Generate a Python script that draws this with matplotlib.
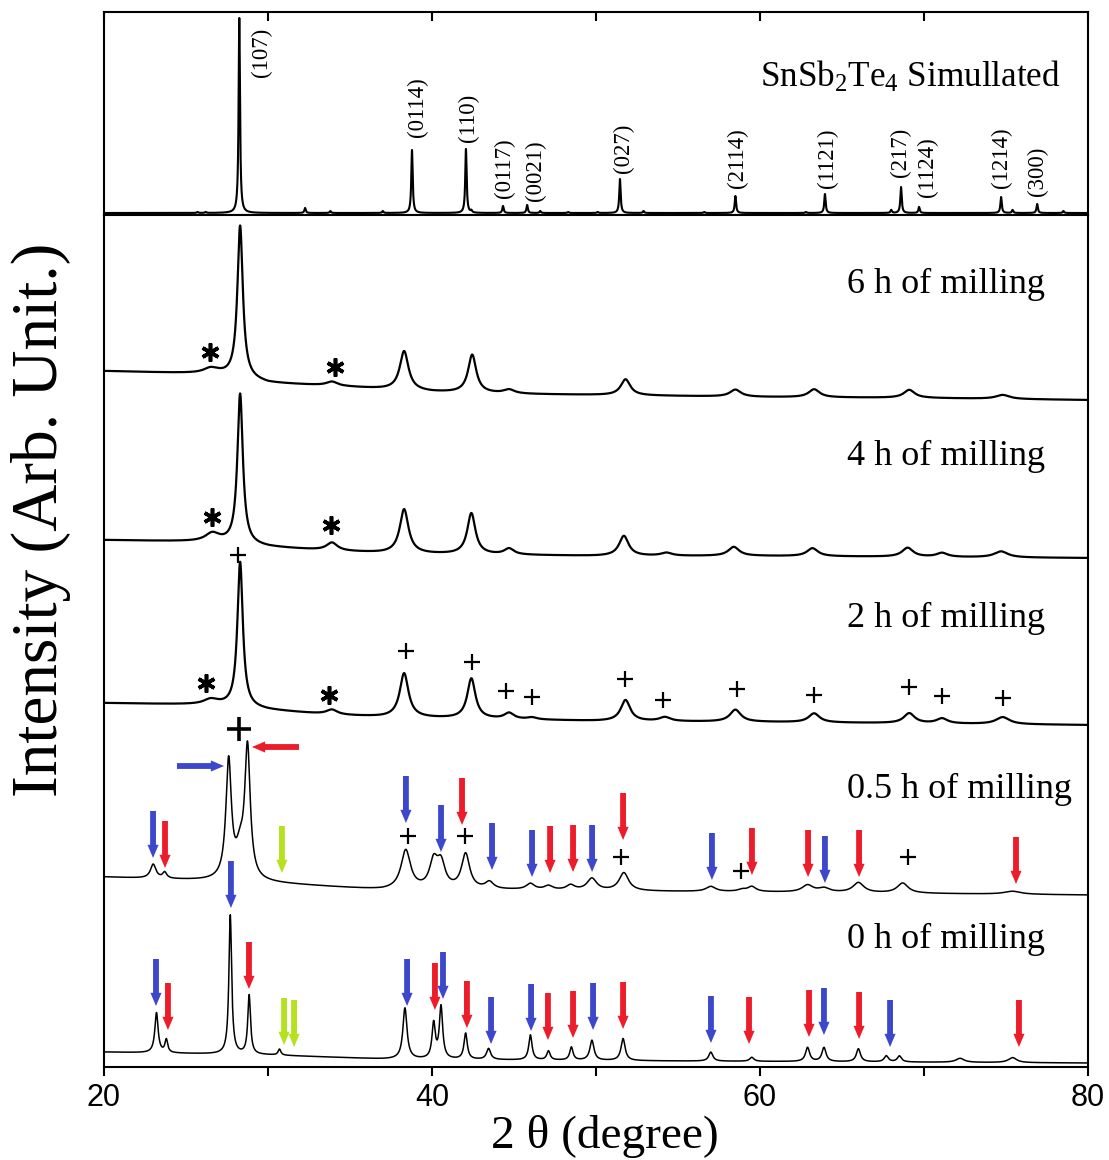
import numpy as np
import matplotlib
matplotlib.use("Agg")
import matplotlib.pyplot as plt

plt.rcParams['font.family'] = ['Liberation Serif', 'DejaVu Serif']
plt.rcParams['mathtext.fontset'] = 'custom'
plt.rcParams['mathtext.rm'] = 'Liberation Serif'
plt.rcParams['mathtext.it'] = 'Liberation Serif:italic'

# ---------------- data ----------------
# Simulated SnSb2Te4 pattern: peak positions (2theta), heights, HWHM
sim_pos = [25.7, 26.2, 28.25, 32.26, 33.8, 37.0, 38.78, 42.07, 42.4, 44.33, 45.8, 46.6,
           48.3, 50.1, 51.46, 52.9, 56.6, 58.5, 62.8, 63.96, 68.0, 68.6, 69.7, 74.7,
           75.4, 76.9, 78.5]
sim_amp = [1, 1, 195, 5, 2, 2, 63, 64, 2, 7, 8, 2,
           1, 1, 34, 2, 1, 17, 1, 19, 3, 26, 6, 16,
           3, 9, 2]
sim_wid = 0.05
sim_base = 2
hkl_labels = ['(107)', '(0114)', '(110)', '(0117)', '(0021)', '(027)', '(2114)', '(1121)',
              '(217)', '(1124)', '(1214)', '(300)']
hkl_x = [29.63, 39.09, 42.2, 44.39, 46.28, 51.65, 58.6, 64.09, 68.54, 70.24, 74.7, 76.89]
hkl_y = [163, 108, 97, 47, 44, 67, 57, 57, 63, 48, 57, 44]

# 6 h milling
h6_bg_x = [20, 27, 30, 34, 37, 40, 45, 50, 60, 70, 80]
h6_bg_y = [696, 693, 684, 681, 678, 675, 673, 672, 670, 669, 667]
h6_pos = [26.5, 28.3, 33.9, 38.3, 42.45, 44.7, 51.8, 58.5, 63.3, 69.1, 74.8]
h6_amp = [5, 152, 4, 39, 38, 4, 16, 7, 8, 8, 4]
h6_wid = [0.5, 0.2, 0.4, 0.32, 0.3, 0.4, 0.35, 0.4, 0.4, 0.4, 0.5]

# 4 h milling
h4_bg_x = [20, 27, 30, 34, 37, 40, 50, 60, 80]
h4_bg_y = [527, 525, 520, 516, 514, 513, 511, 511, 509]
h4_pos = [26.6, 28.3, 33.9, 38.3, 42.4, 44.7, 51.7, 54.3, 58.4, 63.2, 69.0, 71.1, 74.7]
h4_amp = [8, 150, 8, 44, 41, 6, 20, 3, 9, 8, 9, 4, 6]
h4_wid = [0.5, 0.2, 0.4, 0.32, 0.3, 0.35, 0.35, 0.4, 0.4, 0.4, 0.4, 0.4, 0.5]

# 2 h milling
h2_bg_x = [20, 27, 30, 34, 37, 40, 50, 60, 80]
h2_bg_y = [364, 362, 357, 352, 350, 349, 346, 345, 342]
h2_pos = [26.5, 28.3, 33.9, 38.3, 42.4, 44.7, 46.1, 51.8, 54.2, 58.5, 63.3, 69.1, 71.1, 74.8]
h2_amp = [5, 145, 5, 44, 40, 6, 2, 21, 4, 12, 9, 10, 5, 7]
h2_wid = [0.5, 0.2, 0.4, 0.32, 0.3, 0.35, 0.35, 0.35, 0.4, 0.4, 0.4, 0.4, 0.4, 0.5]

# 0.5 h milling
h05_bg_x = [20, 25, 30, 37, 45, 50, 60, 80]
h05_bg_y = [190, 187, 184, 177, 177, 176, 175, 172]
h05_pos = [23.0, 23.7, 27.6, 28.3, 28.75, 38.4, 40.1, 40.55, 42.05, 43.5, 46.0, 47.1, 48.45,
           49.75, 51.7, 57.0, 58.9, 59.5, 62.9, 63.9, 66.0, 68.7, 75.4]
h05_amp = [14, 6, 118, 25, 130, 39, 26, 24, 35, 7, 6, 4, 5,
           12, 18, 5, 2, 5, 7, 4, 10, 10, 3]
h05_wid = [0.2, 0.15, 0.2, 0.3, 0.2, 0.35, 0.3, 0.3, 0.3, 0.3, 0.3, 0.3, 0.3,
           0.35, 0.35, 0.35, 0.3, 0.3, 0.4, 0.4, 0.4, 0.4, 0.6]

# 0 h milling
h0_bg_x = [20, 30, 37, 45, 55, 80]
h0_bg_y = [15, 12, 8, 7, 6, 4]
h0_pos = [23.2, 23.8, 27.7, 28.85, 30.7, 38.35, 40.1, 40.55, 42.05, 43.45, 46.0, 47.1, 48.5,
          49.75, 51.65, 57.0, 59.5, 62.9, 63.9, 66.0, 67.7, 68.5, 72.2, 75.4]
h0_amp = [40, 13, 139, 59, 6, 51, 35, 52, 26, 11, 25, 9, 13,
          20, 22, 9, 4, 14, 14, 13, 6, 6, 4, 5]
h0_wid = [0.12, 0.1, 0.1, 0.1, 0.1, 0.15, 0.12, 0.12, 0.12, 0.15, 0.12, 0.12, 0.12,
          0.15, 0.15, 0.15, 0.15, 0.15, 0.15, 0.15, 0.15, 0.15, 0.3, 0.3]

curve_labels = ['6 h of milling', '4 h of milling', '2 h of milling', '0.5 h of milling', '0 h of milling']
curve_label_y = [774, 602, 440, 269, 119]

# phase markers
star_x = [26.46, 34.09, 26.59, 33.84, 26.22, 33.72]
star_y = [715, 700, 550, 542, 384, 372]
plus_x = [28.17, 38.41, 42.44, 44.51, 46.1, 51.77, 54.09, 58.6, 63.29, 69.09, 71.1, 74.82,
          38.54, 42.01, 51.52, 58.84, 69.02]
plus_y = [512, 416, 405, 376, 370, 388, 367, 378, 372, 380, 371, 369,
          231, 231, 210, 196, 210]
bigplus_x = [28.23]
bigplus_y = [338]

# down arrows: x position, tip y, colour code
arr05_x = [22.99, 23.72, 30.85, 38.41, 40.55, 41.83, 43.66, 46.10, 47.20, 48.60, 49.76,
           51.65, 57.07, 59.51, 62.93, 63.96, 66.04, 75.61]
arr05_y = [209, 199, 194, 244, 215, 242, 197, 190, 194, 195, 195,
           227, 187, 192, 190, 184, 190, 183]
arr05_c = ['b', 'r', 'g', 'b', 'b', 'r', 'b', 'b', 'r', 'r', 'b',
           'r', 'b', 'r', 'r', 'b', 'r', 'r']
arr0_x = [23.17, 23.90, 27.74, 28.84, 30.98, 31.59, 38.48, 40.18, 40.67, 42.13, 43.60, 46.04,
          47.07, 48.60, 49.82, 51.65, 57.01, 59.33, 62.99, 63.90, 66.04, 67.93, 75.79]
arr0_y = [61, 37, 159, 78, 22, 20, 61, 57, 68, 39, 23, 36,
          27, 29, 37, 38, 24, 23, 30, 32, 28, 20, 20]
arr0_c = ['b', 'r', 'b', 'r', 'g', 'g', 'b', 'r', 'b', 'r', 'b', 'b',
          'r', 'r', 'b', 'r', 'b', 'r', 'r', 'b', 'r', 'b', 'r']
# horizontal arrows (start x, end x, y)
harr_x0 = [24.45, 31.89]
harr_x1 = [27.32, 29.02]
harr_y = [301, 320]
harr_c = ['b', 'r']

colors = {'b': '#3d47c9', 'r': '#ec1c2a', 'g': '#b5e11f'}
ARROW_LEN = 47

# ---------------- plotting ----------------
x = np.arange(20, 80.0001, 0.01)


def lorentz_sum(xx, pos, amp, wid):
    wid = np.broadcast_to(np.asarray(wid, dtype=float), (len(pos),))
    out = np.zeros_like(xx)
    for c, a, w in zip(pos, amp, wid):
        out += a / (1 + ((xx - c) / w) ** 2)
    return out


fig = plt.figure(figsize=(11.09, 11.60), dpi=100)
L = 104 / 1109
W = 984 / 1109
ax_top = fig.add_axes([L, 1 - 215 / 1160, W, 203 / 1160])
ax = fig.add_axes([L, 1 - 1067 / 1160, W, 852 / 1160])

# top (simulated)
ysim = sim_base + lorentz_sum(x, sim_pos, sim_amp, sim_wid)
ax_top.plot(x, ysim, color='black', lw=1.5)
ax_top.set_xlim(20, 80)
ax_top.set_ylim(0, 203)
ax_top.set_yticks([])
ax_top.set_xticks(np.arange(20, 81, 10))
ax_top.tick_params(axis='x', which='both', direction='in', top=True, bottom=False,
                   labeltop=False, labelbottom=False, length=6.5, width=1.5)
for lab, hx, hy in zip(hkl_labels, hkl_x, hkl_y):
    ax_top.text(hx, hy, lab, rotation=90, ha='center', va='center', fontsize=16.5)
ax_top.text(60.0, 128, r'SnSb$_2$Te$_4$ Simullated', ha='left', va='baseline', fontsize=25.3)

# main
series = [
    (h6_bg_x, h6_bg_y, h6_pos, h6_amp, h6_wid, 1.6),
    (h4_bg_x, h4_bg_y, h4_pos, h4_amp, h4_wid, 1.6),
    (h2_bg_x, h2_bg_y, h2_pos, h2_amp, h2_wid, 1.6),
    (h05_bg_x, h05_bg_y, h05_pos, h05_amp, h05_wid, 1.1),
    (h0_bg_x, h0_bg_y, h0_pos, h0_amp, h0_wid, 1.1),
]
for bx, by, p, a, w, lw in series:
    y = np.interp(x, bx, by) + lorentz_sum(x, p, a, w)
    ax.plot(x, y, color='black', lw=lw)

for lab, ly in zip(curve_labels, curve_label_y):
    ax.text(65.3, ly, lab, ha='left', va='baseline', fontsize=26)

ax.plot(star_x, star_y, linestyle='none', marker=(6, 2, 0), ms=13, mew=2.6, color='black')
ax.plot(plus_x, plus_y, linestyle='none', marker='+', ms=12, mew=1.6, color='black')
ax.plot(bigplus_x, bigplus_y, linestyle='none', marker='+', ms=17, mew=2.6, color='black')

astyle = "simple,head_length=0.95,head_width=0.8,tail_width=0.42"
for xs, ys, cs in ((arr05_x, arr05_y, arr05_c), (arr0_x, arr0_y, arr0_c)):
    for ax_x, ty, c in zip(xs, ys, cs):
        ax.annotate('', xy=(ax_x, ty), xytext=(ax_x, ty + ARROW_LEN),
                    arrowprops=dict(arrowstyle=astyle, color=colors[c], mutation_scale=10,
                                    shrinkA=0, shrinkB=0, lw=0))
for x0, x1, hy, c in zip(harr_x0, harr_x1, harr_y, harr_c):
    ax.annotate('', xy=(x1, hy), xytext=(x0, hy),
                arrowprops=dict(arrowstyle=astyle, color=colors[c], mutation_scale=10,
                                shrinkA=0, shrinkB=0, lw=0))

ax.set_xlim(20, 80)
ax.set_ylim(0, 852)
ax.set_yticks([])
ax.set_xticks(np.arange(20, 81, 10))
ax.set_xticklabels(['20', '', '40', '', '60', '', '80'],
                   fontfamily=['Liberation Sans Narrow', 'Liberation Sans', 'DejaVu Sans'],
                   fontsize=22)
ax.tick_params(axis='x', direction='out', length=6.5, width=1.5, pad=5, top=False)

for a_ in (ax, ax_top):
    for s in a_.spines.values():
        s.set_linewidth(1.5)

fig.text(605 / 1109, 1 - 1137 / 1160, '2 θ (degree)', ha='center', va='center', fontsize=34)
fig.text(41 / 1109, 1 - 520 / 1160, 'Intensity (Arb. Unit.)', rotation=90,
         ha='center', va='center', fontsize=47)

fig.savefig('out.png', dpi=100)
